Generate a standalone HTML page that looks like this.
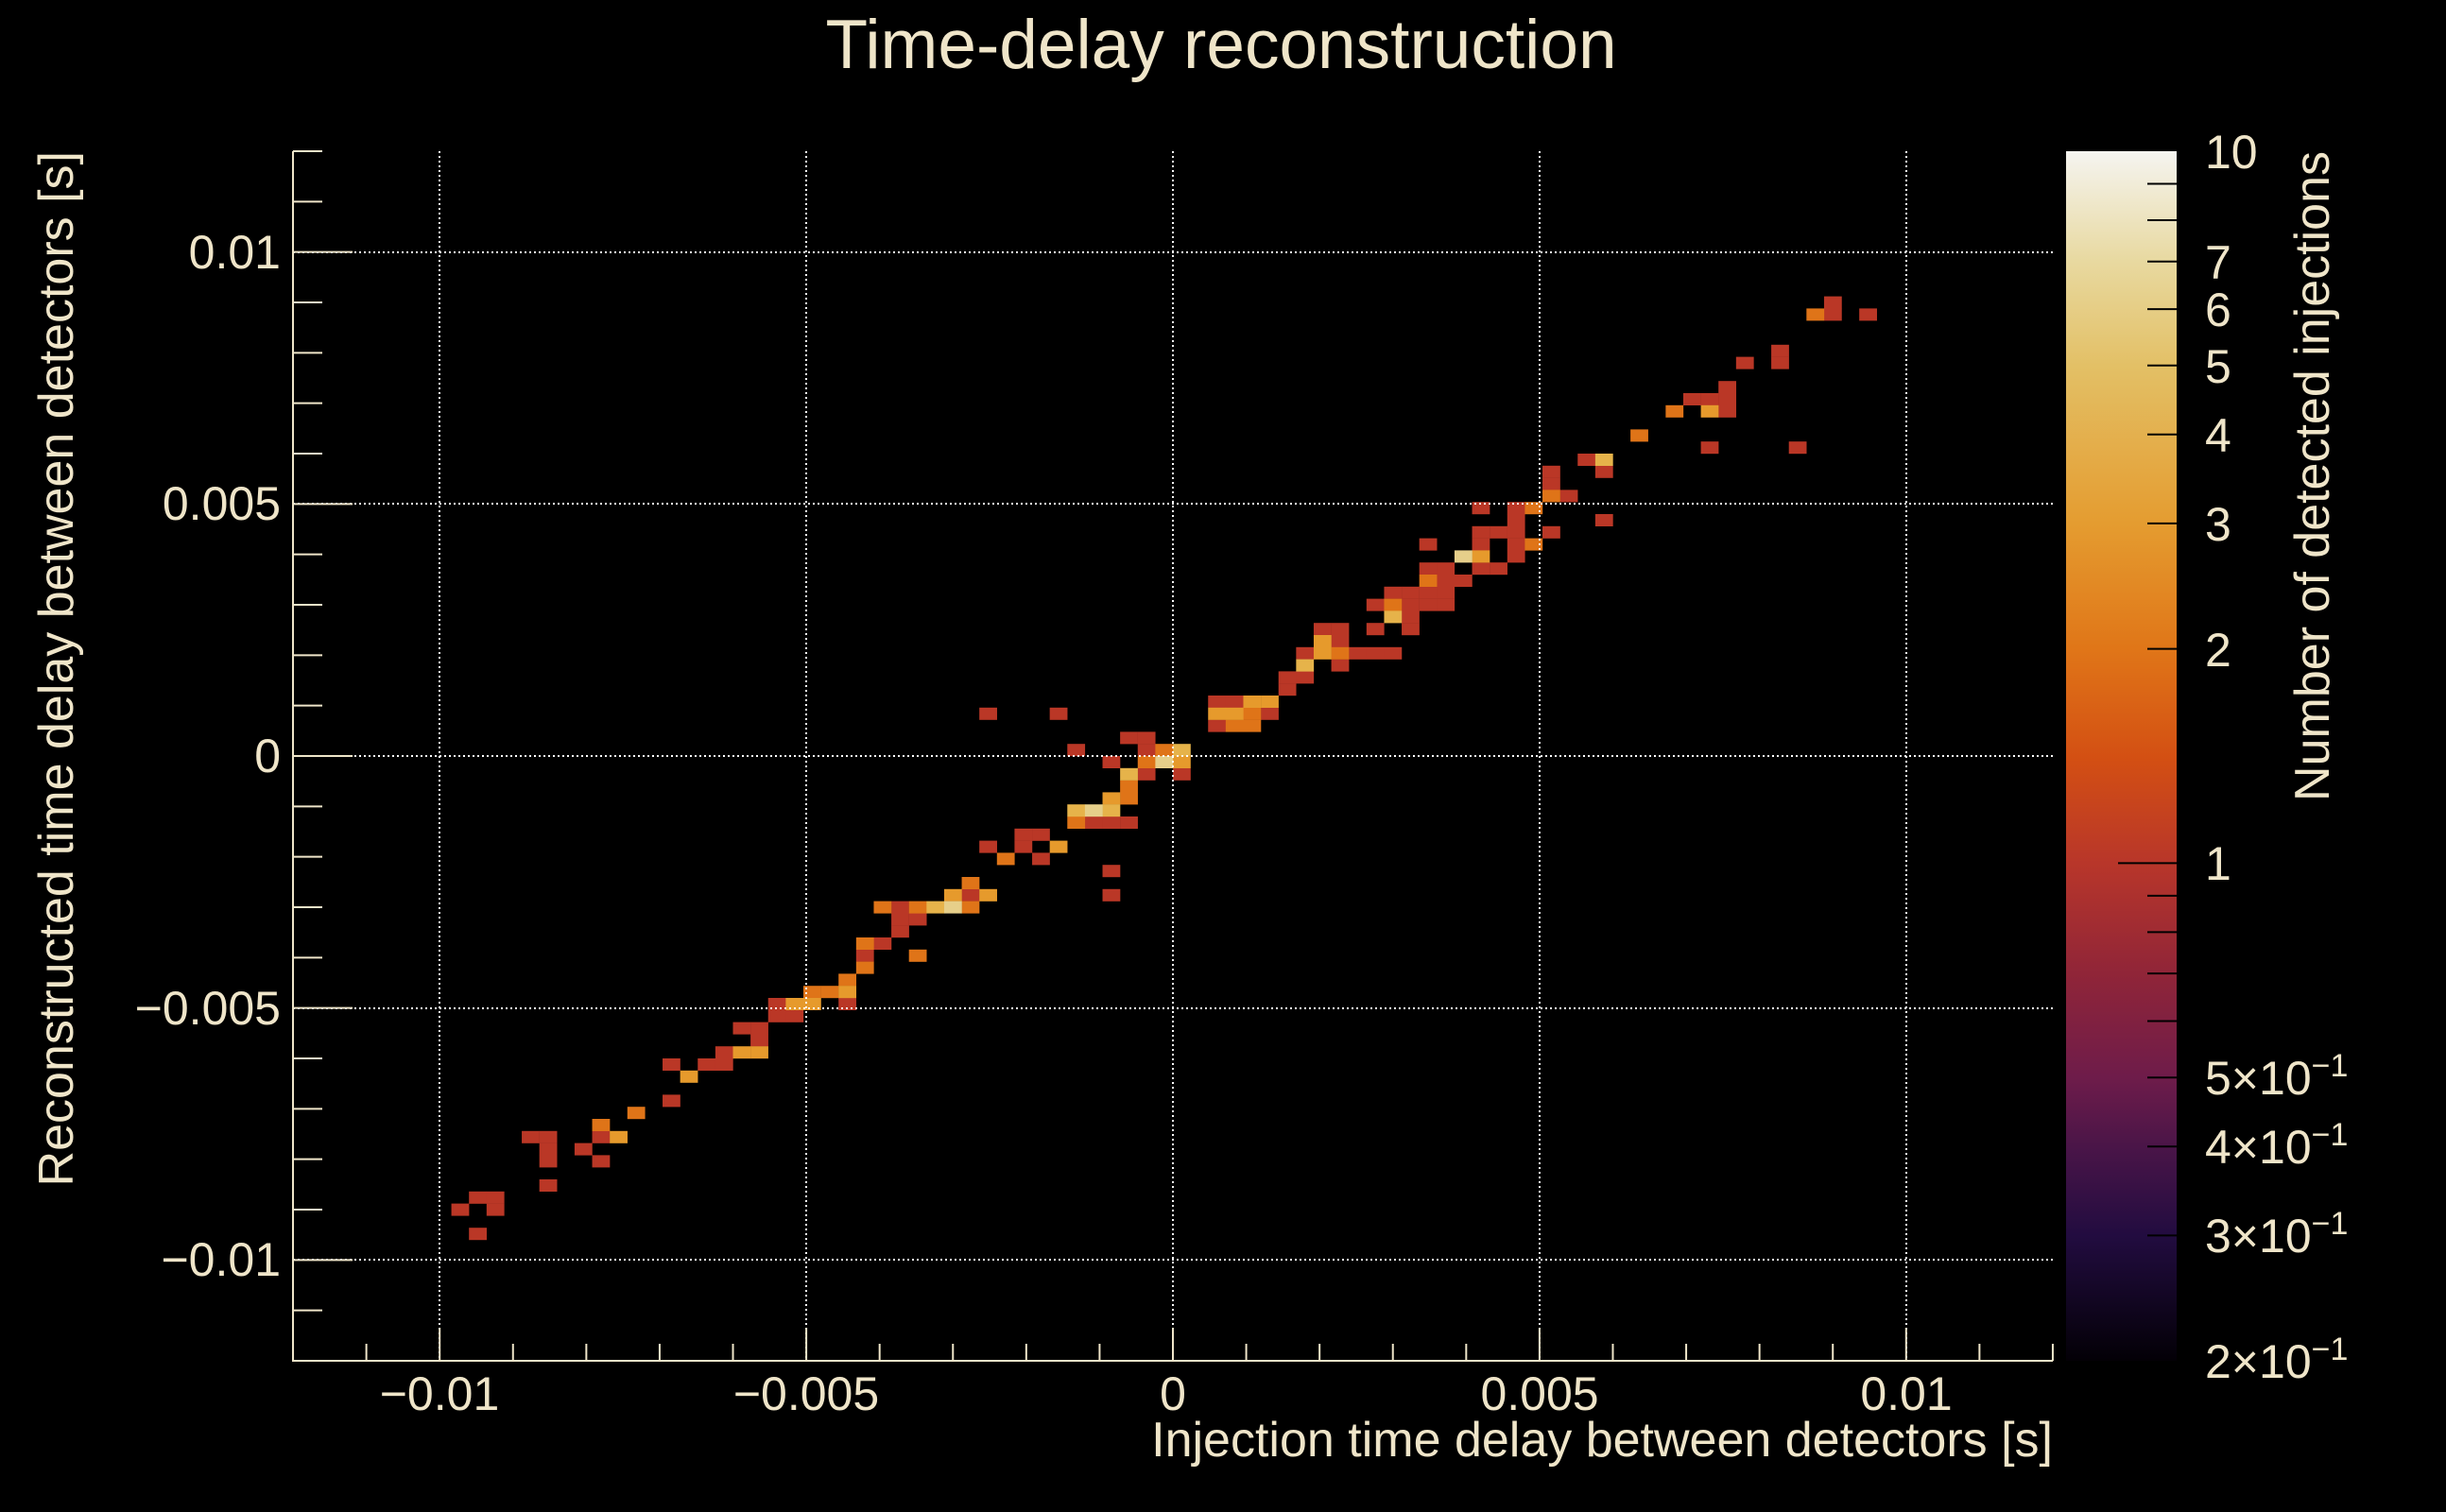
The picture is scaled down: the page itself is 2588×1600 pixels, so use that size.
<!DOCTYPE html>
<html><head><meta charset="utf-8"><style>
html,body{margin:0;padding:0;background:#000;}
svg{display:block}
text{font-family:"Liberation Sans",sans-serif;fill:#efe5c9}
</style></head><body>
<svg id="s" width="2588" height="1600" viewBox="0 0 2588 1600" xmlns="http://www.w3.org/2000/svg">
<defs>
<linearGradient id="cb" x1="0" y1="1" x2="0" y2="0">
<stop offset="0" stop-color="#030006"/>
<stop offset="0.1036" stop-color="#220c40"/>
<stop offset="0.177" stop-color="#4a1548"/>
<stop offset="0.234" stop-color="#6e1c4a"/>
<stop offset="0.320" stop-color="#902538"/>
<stop offset="0.411" stop-color="#b8362a"/>
<stop offset="0.497" stop-color="#d34f13"/>
<stop offset="0.589" stop-color="#e07618"/>
<stop offset="0.692" stop-color="#e49c30"/>
<stop offset="0.823" stop-color="#e3c066"/>
<stop offset="0.909" stop-color="#e8d9a0"/>
<stop offset="1" stop-color="#f5f4f0"/>
</linearGradient>
</defs>
<rect width="2588" height="1600" fill="#000"/>
<g id="cells"></g>
<g id="grid" stroke="#ffffff" stroke-width="2" stroke-dasharray="2 3" fill="none">
<line x1="465" y1="160" x2="465" y2="1440"/>
<line x1="853" y1="160" x2="853" y2="1440"/>
<line x1="1241" y1="160" x2="1241" y2="1440"/>
<line x1="1629" y1="160" x2="1629" y2="1440"/>
<line x1="2017" y1="160" x2="2017" y2="1440"/>
<line x1="310" y1="267" x2="2172" y2="267"/>
<line x1="310" y1="533" x2="2172" y2="533"/>
<line x1="310" y1="800" x2="2172" y2="800"/>
<line x1="310" y1="1067" x2="2172" y2="1067"/>
<line x1="310" y1="1333" x2="2172" y2="1333"/>
</g>
<g id="axes" stroke="#efe5c9" stroke-width="2" fill="none">
<line x1="310" y1="160" x2="310" y2="1441"/>
<line x1="309" y1="1440" x2="2172" y2="1440"/>
</g>
<rect x="2186" y="160" width="117" height="1280" fill="url(#cb)"/>
<g id="cbt" stroke="#000" stroke-width="2"></g>
<text x="1292" y="72" font-size="73" text-anchor="middle">Time-delay reconstruction</text>
<g font-size="50" text-anchor="middle">
<text x="465" y="1492">−0.01</text>
<text x="853" y="1492">−0.005</text>
<text x="1241" y="1492">0</text>
<text x="1629" y="1492">0.005</text>
<text x="2017" y="1492">0.01</text>
</g>
<g font-size="50" text-anchor="end">
<text x="297" y="284">0.01</text>
<text x="297" y="550">0.005</text>
<text x="297" y="817">0</text>
<text x="297" y="1084">−0.005</text>
<text x="297" y="1350">−0.01</text>
</g>
<text x="2172" y="1541" font-size="52" text-anchor="end">Injection time delay between detectors [s]</text>
<text transform="translate(77,160) rotate(-90)" font-size="52" text-anchor="end">Reconstructed time delay between detectors [s]</text>
<text transform="translate(2464,160) rotate(-90)" font-size="52" text-anchor="end">Number of detected injections</text>
<g font-size="50">
<text x="2333" y="178">10</text>
<text x="2333" y="295">7</text>
<text x="2333" y="345">6</text>
<text x="2333" y="405">5</text>
<text x="2333" y="478">4</text>
<text x="2333" y="572">3</text>
<text x="2333" y="705">2</text>
<text x="2333" y="931">1</text>
<text x="2333" y="1158">5×10<tspan font-size="34" dy="-19">−1</tspan></text>
<text x="2333" y="1231">4×10<tspan font-size="34" dy="-19">−1</tspan></text>
<text x="2333" y="1325">3×10<tspan font-size="34" dy="-19">−1</tspan></text>
<text x="2333" y="1458">2×10<tspan font-size="34" dy="-19">−1</tspan></text>
</g>
</svg>
<script>
(function(){
var NS="http://www.w3.org/2000/svg";
var C={R:"#ba3726",O:"#df7418",A:"#e69a2c",Y:"#e6b34a",P:"#e6cf8a"};
var d={
R:"52,45;52,47;39,46;43,46;47,48;48,48;44,49;48,49;46,50;48,51;50,51;45,55;46,55;47,55;41,56;42,56;39,57;41,57;42,58;46,59;38,61;46,61;34,62;34,63;35,63;34,64;33,65;32,66;27,70;31,70;27,71;28,71;25,72;26,72;26,73;24,74;21,75;23,75;24,75;21,78;13,81;14,81;17,81;14,82;16,82;14,83;17,83;14,85;10,86;11,86;9,87;11,87;10,89;87,12;87,13;89,13;84,16;82,17;84,17;81,19;79,20;80,20;81,20;81,21;80,24;85,24;73,25;71,26;74,26;71,27;72,28;67,29;69,29;69,30;74,30;67,31;68,31;69,31;71,31;64,32;67,32;69,32;69,33;64,34;65,34;67,34;68,34;65,35;66,35;62,36;63,36;64,36;65,36;61,37;63,37;64,37;65,37;63,38;58,39;59,39;61,39;63,39;59,40;57,41;60,41;61,41;62,41;59,42;56,43;57,43;56,44;53,45;55,46",
O:"49,49;48,50;47,52;47,53;44,55;40,58;38,60;33,62;35,62;38,62;32,65;35,66;32,67;31,68;29,69;30,69;19,79;17,80;86,13;78,21;76,23;71,28;70,29;70,32;64,35;62,37;59,41;54,46;53,47;54,47",
A:"52,46;50,50;46,53;43,57;37,61;39,61;31,69;28,70;29,70;25,74;26,74;22,76;18,81;80,21;67,33;58,40;58,41;54,45;55,45;53,46",
Y:"50,49;47,51;44,54;46,54;36,62;74,25;62,38;57,42",
P:"49,50;45,54;37,62;66,33"};
var g=document.getElementById("cells");
for(var k in d){d[k].split(";").forEach(function(p){var a=p.split(",");var i=+a[0],j=+a[1];
var r=document.createElementNS(NS,"rect");
r.setAttribute("x",(310+i*18.62).toFixed(2));r.setAttribute("y",(160+j*12.8).toFixed(2));
r.setAttribute("width","18.8");r.setAttribute("height","13");r.setAttribute("fill",C[k]);g.appendChild(r);});}
var ax=document.getElementById("axes");
function ln(p,x1,y1,x2,y2){var l=document.createElementNS(NS,"line");l.setAttribute("x1",x1);l.setAttribute("y1",y1);l.setAttribute("x2",x2);l.setAttribute("y2",y2);p.appendChild(l);}
for(var v=-12;v<=12;v++){var x=1241+v*77.58;var maj=(v%5==0);ln(ax,x,1440,x,1440-(maj?35:18));
var y=800-v*53.333;ln(ax,310,y,310+(maj?63:31),y);}
var cb=document.getElementById("cbt");
var vals=[0.3,0.4,0.5,0.6,0.7,0.8,0.9,1,2,3,4,5,6,7,8,9];
vals.forEach(function(v){var y=1440-1280*Math.log10(v/0.2)/Math.log10(50);ln(cb,2303-(v==1?62:31),y,2303,y);});
})();
</script>
</body></html>
